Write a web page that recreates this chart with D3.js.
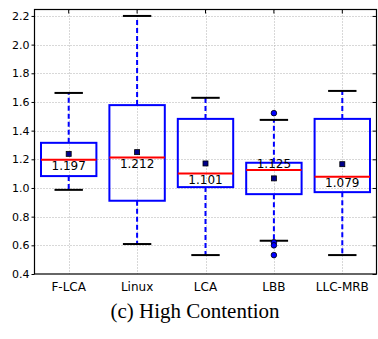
<!DOCTYPE html>
<html>
<head>
<meta charset="utf-8">
<script src="https://cdn.jsdelivr.net/npm/d3@7"></script>
<style>
  body { margin: 0; background: #fff; }
  svg { display: block; font-family: "DejaVu Sans", sans-serif; }
</style>
</head>
<body>
<svg id="chart"></svg>
<script>
// data
const categories = ["F-LCA", "Linux", "LCA", "LBB", "LLC-MRB"];
const whiskerLow = [0.987, 0.609, 0.532, 0.632, 0.532];
const q1 = [1.083, 0.911, 1.006, 0.957, 0.971];
const medians = [1.197, 1.212, 1.101, 1.125, 1.079];
const q3 = [1.315, 1.578, 1.482, 1.176, 1.482];
const whiskerHigh = [1.663, 2.2, 1.629, 1.475, 1.677];
const means = [1.238, 1.250, 1.171, 1.067, 1.166];
const outliers = [[], [], [], [1.522, 0.621, 0.600, 0.532], []];
const labelSide = ["below", "below", "below", "above", "below"];
const yTicks = [0.4, 0.6, 0.8, 1.0, 1.2, 1.4, 1.6, 1.8, 2.0, 2.2];
const caption = "(c) High Contention";

const w = 378;
const h = 339;
const plotL = 34.5, plotR = 376.5, plotT = 9.5, plotB = 274;

const svg = d3.select("#chart")
    .attr("width", w)
    .attr("height", h);

const xScale = d3.scaleBand()
    .domain(categories)
    .range([plotL, plotR]);

const yScale = d3.scaleLinear()
    .domain([0.4, 2.245])
    .range([plotB, plotT]);

const boxW = xScale.bandwidth() * 0.81;
const capW = xScale.bandwidth() * 0.415;
const cx = i => xScale(categories[i]) + xScale.bandwidth() / 2;

// grid
const grid = svg.append("g").attr("stroke", "#b0b0b0").attr("stroke-width", 1)
    .attr("stroke-dasharray", "1,2");
grid.selectAll(".gy")
    .data(yTicks.slice(1))
    .enter()
    .append("line")
    .attr("x1", plotL).attr("x2", plotR)
    .attr("y1", d => Math.round(yScale(d)) + 0.5)
    .attr("y2", d => Math.round(yScale(d)) + 0.5);
grid.selectAll(".gx")
    .data(categories)
    .enter()
    .append("line")
    .attr("x1", d => Math.round(xScale(d) + xScale.bandwidth() / 2) + 0.5)
    .attr("x2", d => Math.round(xScale(d) + xScale.bandwidth() / 2) + 0.5)
    .attr("y1", plotT).attr("y2", plotB);

// axes
const yAxis = d3.axisLeft(yScale)
    .tickValues(yTicks)
    .tickFormat(d3.format(".1f"))
    .tickSize(3)
    .tickPadding(2);
svg.append("g")
    .attr("id", "y-axis")
    .attr("transform", `translate(${plotL},0)`)
    .call(yAxis)
    .call(g => g.select(".domain").remove())
    .call(g => g.selectAll("text").attr("font-size", 11).attr("fill", "#000").attr("font-family", "DejaVu Sans"));

const yAxisR = d3.axisLeft(yScale).tickValues(yTicks).tickSize(4).tickFormat("");
svg.append("g")
    .attr("transform", `translate(${plotR},0)`)
    .call(yAxisR)
    .call(g => g.select(".domain").remove());

const xAxis = d3.axisBottom(xScale).tickSize(0).tickPadding(8);
svg.append("g")
    .attr("id", "x-axis")
    .attr("transform", `translate(0,${plotB})`)
    .call(xAxis)
    .call(g => g.select(".domain").remove())
    .call(g => g.selectAll("text").attr("font-size", 12).attr("fill", "#000").attr("font-family", "DejaVu Sans"));

const xAxisT = d3.axisBottom(xScale).tickSize(4).tickFormat("");
svg.append("g")
    .attr("transform", `translate(0,${plotT})`)
    .call(xAxisT)
    .call(g => g.select(".domain").remove());

svg.append("rect")
    .attr("x", plotL).attr("y", plotT)
    .attr("width", plotR - plotL).attr("height", plotB - plotT)
    .attr("fill", "none").attr("stroke", "#000").attr("stroke-width", 1.2);

// boxes
const boxes = svg.selectAll(".box")
    .data(categories)
    .enter()
    .append("g")
    .attr("class", "box");

boxes.append("line")
    .attr("x1", (d, i) => cx(i)).attr("x2", (d, i) => cx(i))
    .attr("y1", (d, i) => yScale(q3[i])).attr("y2", (d, i) => yScale(whiskerHigh[i]))
    .attr("stroke", "#0000ff").attr("stroke-width", 2).attr("stroke-dasharray", "5,3");
boxes.append("line")
    .attr("x1", (d, i) => cx(i)).attr("x2", (d, i) => cx(i))
    .attr("y1", (d, i) => yScale(q1[i])).attr("y2", (d, i) => yScale(whiskerLow[i]))
    .attr("stroke", "#0000ff").attr("stroke-width", 2).attr("stroke-dasharray", "5,3");

boxes.append("line")
    .attr("x1", (d, i) => cx(i) - capW / 2).attr("x2", (d, i) => cx(i) + capW / 2)
    .attr("y1", (d, i) => yScale(whiskerHigh[i])).attr("y2", (d, i) => yScale(whiskerHigh[i]))
    .attr("stroke", "#000").attr("stroke-width", 2);
boxes.append("line")
    .attr("x1", (d, i) => cx(i) - capW / 2).attr("x2", (d, i) => cx(i) + capW / 2)
    .attr("y1", (d, i) => yScale(whiskerLow[i])).attr("y2", (d, i) => yScale(whiskerLow[i]))
    .attr("stroke", "#000").attr("stroke-width", 2);

boxes.append("rect")
    .attr("x", (d, i) => cx(i) - boxW / 2)
    .attr("y", (d, i) => yScale(q3[i]))
    .attr("width", boxW)
    .attr("height", (d, i) => yScale(q1[i]) - yScale(q3[i]))
    .attr("fill", "none").attr("stroke", "#0000ff").attr("stroke-width", 2);

boxes.append("line")
    .attr("x1", (d, i) => cx(i) - boxW / 2).attr("x2", (d, i) => cx(i) + boxW / 2)
    .attr("y1", (d, i) => yScale(medians[i])).attr("y2", (d, i) => yScale(medians[i]))
    .attr("stroke", "#ff0000").attr("stroke-width", 2);

boxes.append("rect")
    .attr("x", (d, i) => cx(i) - 2.5)
    .attr("y", (d, i) => yScale(means[i]) - 2.5)
    .attr("width", 5).attr("height", 5)
    .attr("fill", "#00008b").attr("stroke", "#000").attr("stroke-width", 0.8);

boxes.selectAll(".flier")
    .data((d, i) => outliers[i].map(v => ({ v, i })))
    .enter()
    .append("circle")
    .attr("cx", d => cx(d.i))
    .attr("cy", d => yScale(d.v))
    .attr("r", 2.8)
    .attr("fill", "#0000ff").attr("stroke", "#000").attr("stroke-width", 0.8);

boxes.append("text")
    .attr("x", (d, i) => cx(i))
    .attr("y", (d, i) => yScale(medians[i]) + (labelSide[i] === "above" ? -6 : 6.5))
    .attr("text-anchor", "middle")
    .attr("dominant-baseline", "central")
    .attr("font-size", 12)
    .text((d, i) => d3.format(".3f")(medians[i]));

svg.append("text")
    .attr("x", 195)
    .attr("y", 318)
    .attr("text-anchor", "middle")
    .attr("font-family", "Liberation Serif, Times New Roman, serif")
    .attr("font-size", 21)
    .text(caption);
</script>
</body>
</html>
